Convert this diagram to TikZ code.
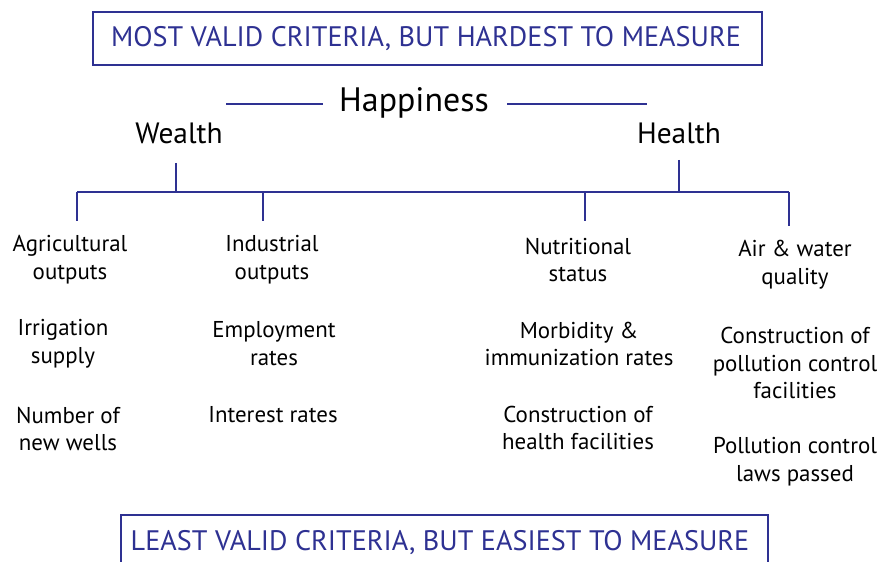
\documentclass[tikz,border=0pt]{standalone}
\usepackage{fontspec}
\setmainfont{PT Sans}
\definecolor{navy}{HTML}{2E3192}
\begin{document}
\begin{tikzpicture}[x=1bp,y=-1bp,
  lbl/.style={align=center,text=black,font=\fontsize{23}{28}\selectfont,inner sep=0pt},
  big/.style={text=black,font=\fontsize{29.5}{34}\selectfont,inner sep=0pt},
  banner/.style={text=navy,font=\fontsize{28.3}{34}\selectfont,inner sep=0pt},
  wire/.style={draw=navy,line width=1.4bp}]
\useasboundingbox (0,0) rectangle (877,562);
% banners
\draw[wire] (93,12) rectangle (762,65);
\node[banner] (top) at (426,39) {MOST VALID CRITERIA, BUT HARDEST TO MEASURE};
\draw[wire] (121,570) -- (121,515) -- (768,515) -- (768,570);
\node[banner] (bot) at (440,543) {LEAST VALID CRITERIA, BUT EASIEST TO MEASURE};
% headings
\node[big,font=\fontsize{34}{38}\selectfont] (hap) at (414,103) {Happiness};
\node[big] (wea) at (179,133) {Wealth};
\node[big] (hea) at (679,133) {Health};
\coordinate (hl1) at (226,104); \coordinate (hl2) at (323,104);
\coordinate (hr1) at (507,104); \coordinate (hr2) at (647,104);
\draw[wire] (hl1) -- (hl2);
\draw[wire] (hr1) -- (hr2);
% tree
\coordinate (wt) at (176,163); \coordinate (wb) at (176,192);
\coordinate (ht) at (679,160); \coordinate (hb) at (679,192);
\coordinate (b1) at (77,192); \coordinate (b2) at (263,192);
\coordinate (b3) at (585,192); \coordinate (b4) at (789,192);
\draw[wire] (wt) -- (wb);
\draw[wire] (ht) -- (hb);
\draw[wire] (b1) -- (b4);
\draw[wire] (b1) -- ++(0,29);
\draw[wire] (b2) -- ++(0,29);
\draw[wire] (b3) -- ++(0,29);
\draw[wire] (b4) -- ++(0,34);
% column 1
\node[lbl] (a1) at (70,260) {Agricultural\\outputs};
\node[lbl] (a2) at (63,344) {Irrigation\\supply};
\node[lbl] (a3) at (68,429) {Number of\\new wells};
% column 2
\node[lbl] (i1) at (272,260) {Industrial\\outputs};
\node[lbl] (i2) at (274,344) {Employment\\rates};
\node[lbl] (i3) at (273,415) {Interest rates};
% column 3
\node[lbl] (n1) at (578,260) {Nutritional\\status};
\node[lbl] (n2) at (579,344) {Morbidity \&\\immunization rates};
\node[lbl] (n3) at (578,428) {Construction of\\health facilities};
% column 4
\node[lbl] (q1) at (795,265) {Air \& water\\quality};
\node[lbl] (q2) at (795,363) {Construction of\\pollution control\\facilities};
\node[lbl] (q3) at (795,462) {Pollution control\\laws passed};
\end{tikzpicture}
\end{document}
